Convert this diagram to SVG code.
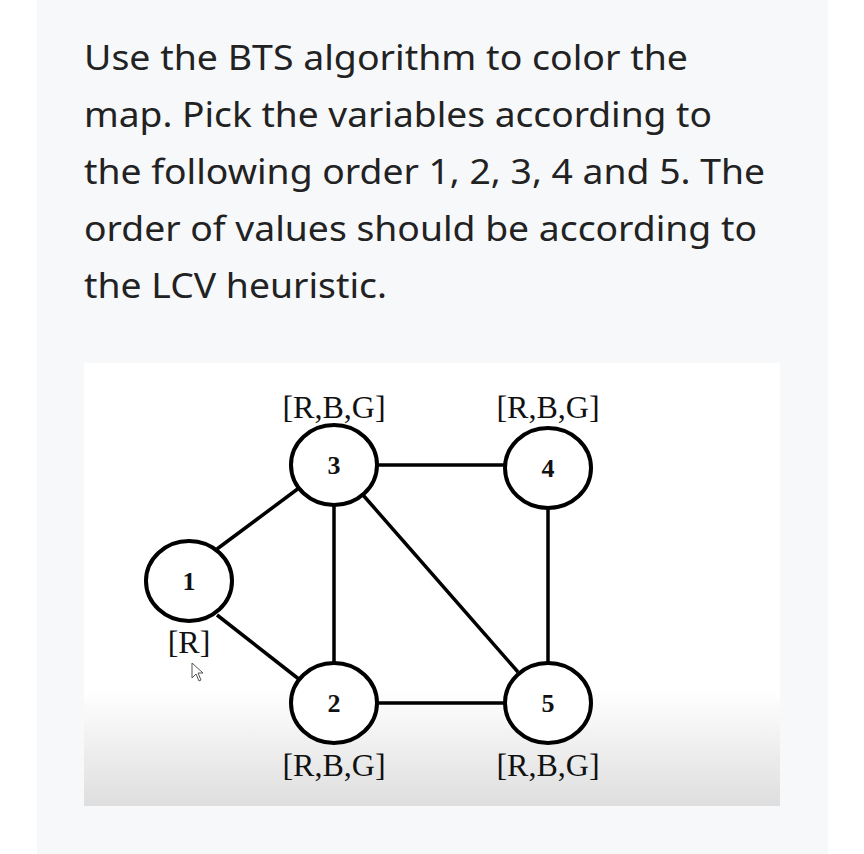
<svg xmlns="http://www.w3.org/2000/svg" width="864" height="854" viewBox="0 0 864 854">
<defs>
<linearGradient id="g" x1="0" y1="0" x2="0" y2="1">
<stop offset="0" stop-color="#ffffff"/><stop offset="1" stop-color="#dedede"/>
</linearGradient>
<style>
.q{font-family:"Noto Sans","Open Sans",sans-serif;font-size:35px;fill:#222}
.n{fill:#fff;stroke:#000;stroke-width:4}
.t{font-family:"Liberation Serif",serif;font-size:26px;font-weight:bold;text-anchor:middle;fill:#111}
.l{font-family:"Liberation Serif",serif;font-size:32px;text-anchor:middle;fill:#111}
.e{stroke:#000;stroke-width:3.5}
</style>
</defs>
<rect width="864" height="854" fill="#fff"/>
<rect x="37" y="0" width="791" height="854" fill="#f7f8fa"/>
<text class="q" x="84" y="70" textLength="604" lengthAdjust="spacingAndGlyphs">Use the BTS algorithm to color the</text>
<text class="q" x="84" y="127" textLength="628" lengthAdjust="spacingAndGlyphs">map. Pick the variables according to</text>
<text class="q" x="84" y="184" textLength="681" lengthAdjust="spacingAndGlyphs">the following order 1, 2, 3, 4 and 5. The</text>
<text class="q" x="84" y="241" textLength="673" lengthAdjust="spacingAndGlyphs">order of values should be according to</text>
<text class="q" x="84" y="298" textLength="303" lengthAdjust="spacingAndGlyphs">the LCV heuristic.</text>
<rect x="84" y="363" width="696" height="443" fill="#fff"/>
<rect x="84" y="690" width="696" height="116" fill="url(#g)"/>
<g id="connectors">
<line class="e" x1="217" y1="549" x2="303" y2="485"/>
<line class="e" x1="217" y1="615" x2="300" y2="680"/>
<line class="e" x1="378" y1="465" x2="505" y2="465"/>
<line class="e" x1="334" y1="503" x2="334" y2="663"/>
<line class="e" x1="363" y1="495" x2="518" y2="672"/>
<line class="e" x1="548" y1="508" x2="548" y2="662"/>
<line class="e" x1="378" y1="703" x2="505" y2="703"/>
</g>
<g id="n1"><ellipse class="n" cx="189" cy="581" rx="43" ry="40"/><text class="t" x="189" y="590">1</text><text class="l" x="189" y="653">[R]</text></g>
<g id="n3"><ellipse class="n" cx="334" cy="465" rx="43" ry="40"/><text class="t" x="334" y="474">3</text><text class="l" x="334" y="418">[R,B,G]</text></g>
<g id="n4"><ellipse class="n" cx="548" cy="468" rx="43" ry="40"/><text class="t" x="548" y="477">4</text><text class="l" x="548" y="418">[R,B,G]</text></g>
<g id="n2"><ellipse class="n" cx="334" cy="703" rx="43" ry="40"/><text class="t" x="334" y="712">2</text><text class="l" x="334" y="776">[R,B,G]</text></g>
<g id="n5"><ellipse class="n" cx="548" cy="703" rx="43" ry="40"/><text class="t" x="548" y="712">5</text><text class="l" x="548" y="776">[R,B,G]</text></g>
<polygon points="192,663 192,678 196,674 199,681 201,680 198,673 203,673" fill="#fff" stroke="#555" stroke-width="1"/>
</svg>
